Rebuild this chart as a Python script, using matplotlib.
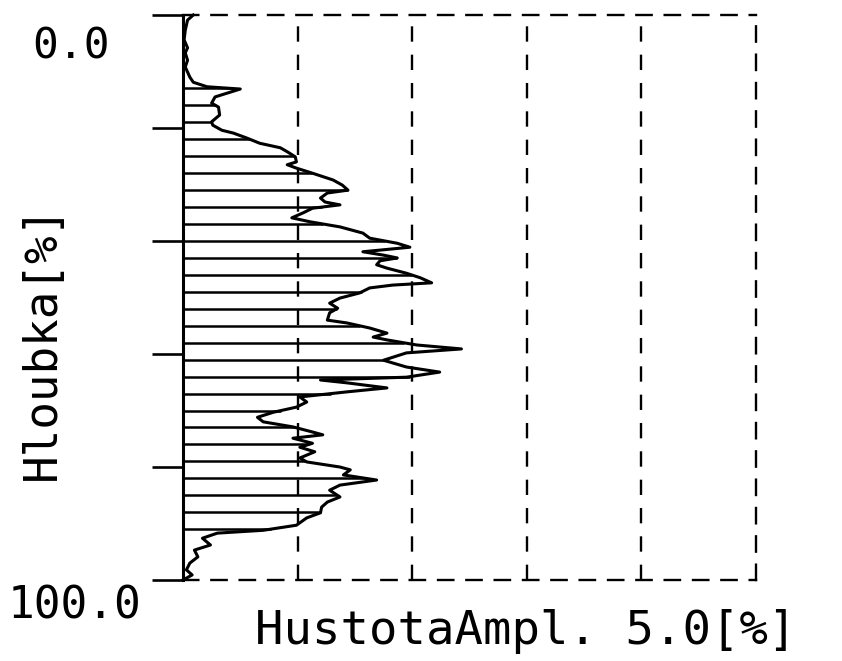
import numpy as np
import matplotlib
matplotlib.use("Agg")
import matplotlib.pyplot as plt

# depth profile [%] and amplitude density [%]
depth = [0.0, 0.9, 2.7, 4.4, 5.8, 6.7, 8.0, 9.2, 11.0, 11.9, 12.7, 13.1, 14.5, 15.6,
         16.3, 17.7, 18.9, 19.5, 20.4, 20.9, 21.8, 22.7, 23.5, 24.2, 25.1, 26.0,
         26.5, 27.1, 28.0, 29.2, 30.1, 31.0, 31.5, 32.4, 33.1, 33.6, 34.2, 35.0,
         35.9, 36.6, 37.5, 38.6, 39.5, 40.4, 41.1, 41.9, 42.5, 43.0, 43.5, 44.2,
         44.8, 45.7, 46.5, 47.4, 47.8, 48.3, 49.2, 50.1, 51.0, 51.9, 52.7, 54.0,
         54.5, 55.4, 56.3, 57.0, 57.5, 58.4, 59.1, 59.8, 61.1, 62.3, 63.2, 64.1,
         64.6, 65.1, 66.0, 66.7, 67.6, 68.5, 69.4, 70.3, 71.2, 72.0, 72.9, 73.8,
         74.3, 74.9, 75.8, 76.5, 77.3, 78.4, 79.1, 80.0, 80.5, 81.4, 82.3, 83.2,
         84.1, 85.3, 86.2, 87.1, 88.1, 89.0, 90.3, 91.2, 91.7, 92.6, 93.8, 94.7,
         95.9, 97.0, 98.2, 99.1, 100.0]
ampl = [0.09, 0.04, 0.02, 0.01, 0.04, 0.02, 0.04, 0.02, 0.06, 0.09, 0.21, 0.50, 0.28, 0.25,
        0.31, 0.32, 0.25, 0.26, 0.34, 0.44, 0.56, 0.67, 0.85, 0.91, 0.98, 0.99,
        0.91, 0.99, 1.13, 1.31, 1.39, 1.44, 1.26, 1.20, 1.24, 1.37, 1.13, 1.05,
        0.95, 1.11, 1.37, 1.57, 1.63, 1.87, 1.98, 1.57, 1.75, 1.87, 1.72, 1.69,
        1.78, 1.95, 2.07, 2.17, 1.83, 1.63, 1.54, 1.37, 1.28, 1.35, 1.28, 1.26,
        1.43, 1.63, 1.78, 1.66, 1.78, 2.04, 2.43, 1.95, 1.75, 1.95, 2.24, 1.95,
        1.20, 1.43, 1.78, 1.43, 1.02, 1.08, 0.99, 0.79, 0.65, 0.70, 0.96, 1.13,
        1.22, 0.96, 1.13, 1.02, 1.15, 1.02, 1.08, 1.37, 1.46, 1.40, 1.69, 1.37,
        1.28, 1.37, 1.26, 1.21, 1.20, 1.08, 0.99, 0.70, 0.30, 0.17, 0.24, 0.10,
        0.13, 0.06, 0.03, 0.08, 0.0]

hatch_depths = list(range(13, 92, 3))
depth_ticks = [0, 20, 40, 60, 80, 100]
grid_x = [1, 2, 3, 4]

mono = "DejaVu Sans Mono"
dash = (0, (6.5, 5.5))

fig = plt.figure(figsize=(8.42, 6.61), dpi=100)
ax = fig.add_axes([0.2173, 0.1225, 0.6805, 0.8548])

ax.set_xlim(0, 5)
ax.set_ylim(100, 0)

# horizontal fill lines from the axis to the curve
hatch_x = np.interp(hatch_depths, depth, ampl)
ax.hlines(hatch_depths, 0, hatch_x, color="black", lw=1.8)
ax.plot(ampl, depth, color="black", lw=2.2, clip_on=False, zorder=3)

for gx in grid_x:
    ax.axvline(gx, color="black", lw=1.7, linestyle=dash)

for side in ["top", "right", "bottom"]:
    ax.spines[side].set_linestyle(dash)
    ax.spines[side].set_linewidth(1.7)
ax.spines["left"].set_linewidth(2.2)

ax.set_xticks([])
ax.set_yticks(depth_ticks)
ax.set_yticklabels([])
ax.tick_params(axis="y", direction="out", length=22, width=1.9)

fig.text(0.0843, 0.929, "0.0", family=mono, fontsize=31, ha="center", va="center")
fig.text(0.089, 0.083, "100.0", family=mono, fontsize=32, ha="center", va="center")
fig.text(0.05, 0.483, "Hloubka[%]", family=mono, fontsize=33, rotation=90,
         ha="center", va="center")
fig.text(0.624, 0.044, "HustotaAmpl. 5.0[%]", family=mono, fontsize=34,
         ha="center", va="center")

fig.savefig("out.png", dpi=100)
